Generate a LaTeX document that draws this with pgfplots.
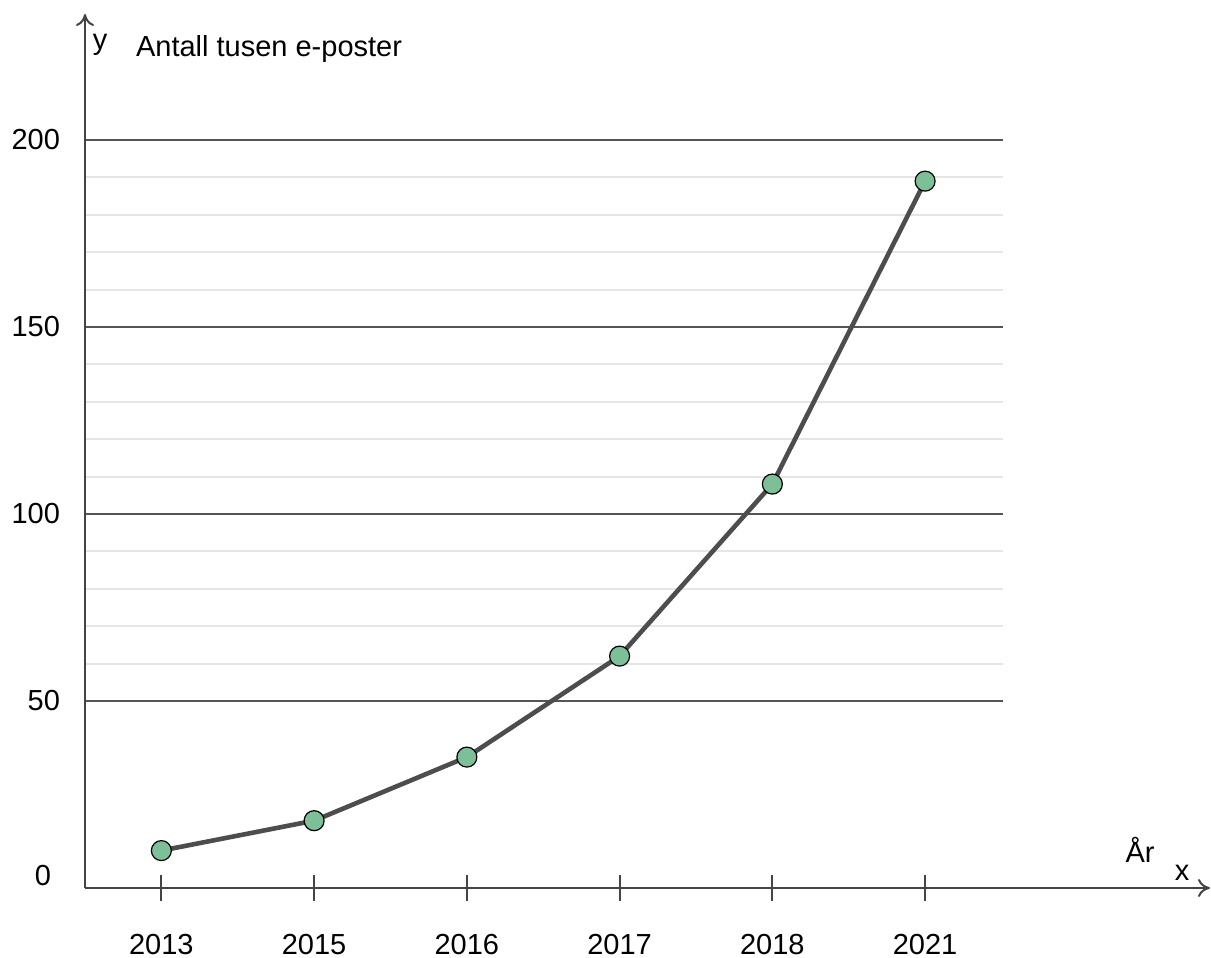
\documentclass[border=0pt]{standalone}
\usepackage{pgfplots}
\pgfplotsset{compat=1.18}
\usepackage{fontspec}
\setmainfont{Liberation Sans}
\usetikzlibrary{arrows.meta}
\definecolor{axisgray}{HTML}{444444}
\definecolor{majgrid}{HTML}{555555}
\definecolor{mingrid}{HTML}{E6E6E6}
\definecolor{linegray}{HTML}{4D4D4D}
\definecolor{markgreen}{HTML}{7DBF96}
\begin{document}
\begin{tikzpicture}
\begin{axis}[
  at={(0,0)}, anchor=south west,
  scale only axis,
  width=459pt, height=374pt,
  xmin=-0.5, xmax=5.51,
  ymin=0, ymax=200,
  axis lines=left,
  x axis line style={draw=axisgray, line width=1pt, -{To[length=6pt,width=9pt]}, shorten >=-103.5pt},
  y axis line style={draw=axisgray, line width=1pt, -{To[length=6pt,width=9pt]}, shorten >=-63pt},
  xtick=data,
  xticklabels={2013,2015,2016,2017,2018,2021},
  tick align=center,
  major tick length=13pt,
  xtick style={draw=axisgray, line width=1pt},
  ytick={50,100,150,200},
  ytick style={draw=none},
  minor y tick num=4,
  minor tick length=0pt,
  minor tick style={draw=none},
  ymajorgrids, yminorgrids,
  major grid style={draw=majgrid, line width=1pt},
  minor grid style={draw=mingrid, line width=1pt},
  extra y ticks={0},
  extra y tick style={grid=none, yticklabel style={xshift=-4.5pt, yshift=6pt}},
  tick label style={font=\fontsize{14.5}{17}\selectfont},
  /pgf/number format/assume math mode=true,
  xticklabel style={yshift=-13pt},
  yticklabel style={xshift=-2.5pt},
  clip=false,
]
\addplot[linegray, line width=2.3pt, mark=*, mark size=5pt,
  mark options={fill=markgreen, draw=black, line width=0.6pt}]
  coordinates {(0,10) (1,18) (2,35) (3,62) (4,108) (5,189)};
\end{axis}
\node[font=\fontsize{14.5}{17}\selectfont] at (7.5pt,421.5pt) {y};
\node[font=\fontsize{14.5}{17}\selectfont, anchor=west] at (22pt,419.5pt) {Antall tusen e-poster};
\node[font=\fontsize{14.5}{17}\selectfont] at (548.5pt,7.5pt) {x};
\node[font=\fontsize{14.5}{17}\selectfont] at (527.5pt,19pt) {År};
\pgfresetboundingbox
\path (-42.5pt,-35pt) rectangle (563pt,444pt);
\end{tikzpicture}
\end{document}
